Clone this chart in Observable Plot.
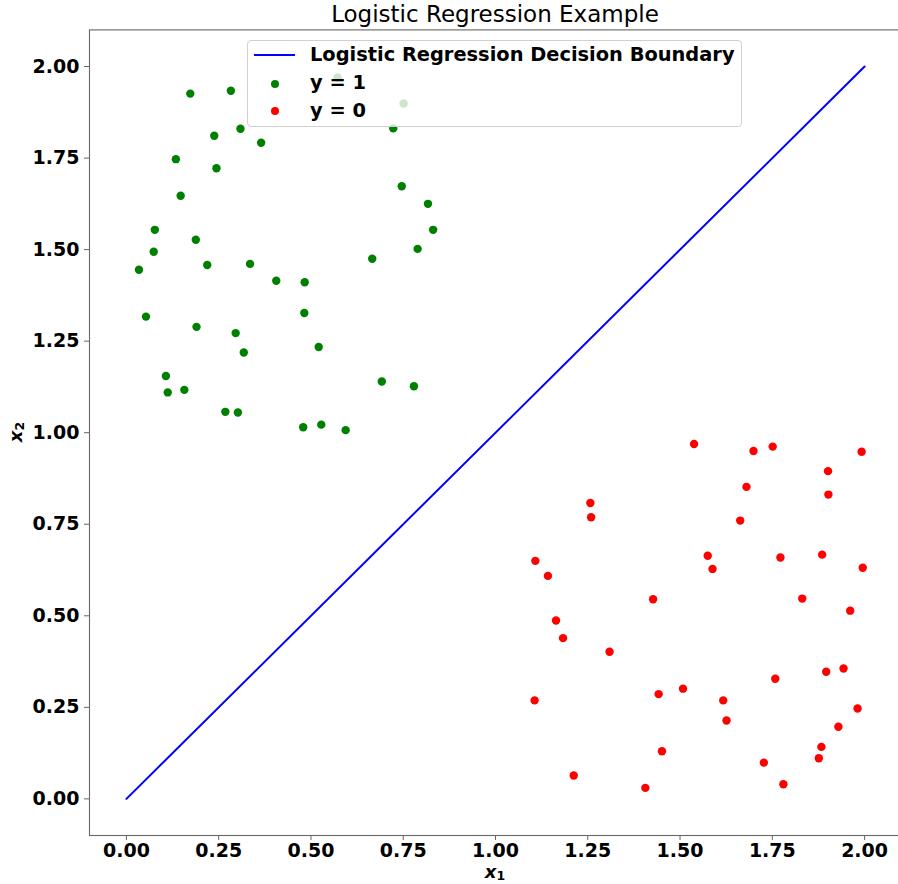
<!DOCTYPE html>
<html>
<head>
<meta charset="utf-8">
<script src="https://cdn.jsdelivr.net/npm/d3@7"></script>
<script src="https://cdn.jsdelivr.net/npm/@observablehq/plot@0.6"></script>
<style>
  html, body { margin: 0; padding: 0; background: white; overflow: hidden; }
  #wrap { position: relative; width: 898px; height: 884px; font-family: "DejaVu Sans", sans-serif; }
  #title { position: absolute; left: 89px; width: 812px; top: 0px; text-align: center; font-size: 23px; line-height: 28px; color: #000; }
  #xlabel { position: absolute; left: 495px; top: 865.3px; transform: translateX(-50%); font-size: 18px; line-height: 14px; font-weight: bold; font-style: italic; white-space: nowrap; }
  #ylabel { position: absolute; left: 16px; top: 432px; transform: translate(-50%, -50%) rotate(-90deg); font-size: 18px; line-height: 14px; font-weight: bold; font-style: italic; white-space: nowrap; }
  sub { font-style: normal; font-size: 12.5px; line-height: 0; vertical-align: -2px; }
  #legend { position: absolute; left: 247px; top: 40px; width: 493px; height: 85px; border: 1px solid #d0d0d0; border-radius: 4px; background: rgba(255,255,255,0.8); }
  .lt { position: absolute; left: 62px; font-size: 19.4px; font-weight: bold; line-height: 20px; white-space: nowrap; }
  .sw-line { position: absolute; left: 6px; width: 41px; height: 2px; background: blue; }
  .sw-dot { position: absolute; width: 8.4px; height: 8.4px; border-radius: 50%; }
</style>
</head>
<body>
<div id="wrap">
  <div id="title">Logistic Regression Example</div>
</div>
<script>
// ---- data ----
const class1X = [0.173, 0.283, 0.572, 0.751, 0.723, 0.309, 0.238, 0.365, 0.134, 0.244,
                 0.746, 0.147, 0.817, 0.077, 0.188, 0.831, 0.789, 0.074, 0.034, 0.219,
                 0.335, 0.666, 0.406, 0.483, 0.482, 0.053, 0.190, 0.296, 0.318, 0.521,
                 0.107, 0.112, 0.157, 0.692, 0.779, 0.268, 0.302, 0.479, 0.528, 0.594];
const class1Y = [1.926, 1.934, 1.970, 1.899, 1.831, 1.830, 1.811, 1.792, 1.747, 1.722,
                 1.673, 1.647, 1.625, 1.554, 1.527, 1.554, 1.502, 1.494, 1.445, 1.458,
                 1.461, 1.475, 1.415, 1.411, 1.327, 1.317, 1.289, 1.272, 1.219, 1.234,
                 1.155, 1.110, 1.117, 1.140, 1.127, 1.057, 1.055, 1.015, 1.022, 1.007];
const class0X = [1.538, 1.699, 1.751, 1.992, 1.901, 1.680, 1.902, 1.257, 1.259, 1.663,
                 1.108, 1.575, 1.772, 1.885, 1.588, 1.995, 1.142, 1.427, 1.831, 1.961,
                 1.164, 1.183, 1.309, 1.106, 1.442, 1.508, 1.617, 1.626, 1.758, 1.896,
                 1.943, 1.981, 1.929, 1.883, 1.876, 1.451, 1.727, 1.212, 1.406, 1.780];
const class0Y = [0.969, 0.950, 0.962, 0.948, 0.895, 0.852, 0.831, 0.808, 0.769, 0.760,
                 0.650, 0.664, 0.659, 0.667, 0.628, 0.631, 0.609, 0.545, 0.547, 0.514,
                 0.487, 0.439, 0.402, 0.269, 0.286, 0.301, 0.269, 0.214, 0.328, 0.347,
                 0.356, 0.247, 0.197, 0.142, 0.111, 0.130, 0.099, 0.064, 0.030, 0.040];
const boundaryX = [0, 2];
const boundaryY = [0, 2];
const xTicks = [0, 0.25, 0.5, 0.75, 1, 1.25, 1.5, 1.75, 2];
const yTicks = [0, 0.25, 0.5, 0.75, 1, 1.25, 1.5, 1.75, 2];
const seriesLabels = ["Logistic Regression Decision Boundary", "y = 1", "y = 0"];

const ones = class1X.map((x, i) => ({x1: x, x2: class1Y[i]}));
const zeros = class0X.map((x, i) => ({x1: x, x2: class0Y[i]}));
const boundary = boundaryX.map((x, i) => ({x1: x, x2: boundaryY[i]}));

const fmt = d3.format(".2f");
const chart = Plot.plot({
  width: 898,
  height: 884,
  marginTop: 29.4,
  marginBottom: 49,
  marginLeft: 89,
  marginRight: -3,
  x: {domain: [-0.1, 2.1]},
  y: {domain: [-0.1, 2.1]},
  style: {fontFamily: "DejaVu Sans", fontSize: "19px", fontWeight: "bold", background: "white", overflow: "visible", maxWidth: "none"},
  marks: [
    Plot.frame({stroke: "#666", strokeWidth: 1.1}),
    Plot.line(boundary, {x: "x1", y: "x2", stroke: "blue", strokeWidth: 2}),
    Plot.dot(ones, {x: "x1", y: "x2", r: 4.2, fill: "green", stroke: null}),
    Plot.dot(zeros, {x: "x1", y: "x2", r: 4.2, fill: "red", stroke: null}),
    Plot.axisX({ticks: xTicks, tickFormat: fmt, tickSize: 5, tickPadding: 2.5, label: null, stroke: "#666", fill: "black", fontWeight: "bold", fontSize: 19}),
    Plot.axisY({ticks: yTicks, tickFormat: fmt, tickSize: 5, tickPadding: 5, label: null, stroke: "#666", fill: "black", fontWeight: "bold", fontSize: 19})
  ]
});
chart.style.position = "absolute";
chart.style.left = "0px";
chart.style.top = "0px";
const wrap = document.getElementById("wrap");
wrap.insertBefore(chart, wrap.firstChild);

// axis labels
const xl = document.createElement("div");
xl.id = "xlabel";
xl.innerHTML = "x<sub>1</sub>";
wrap.appendChild(xl);
const yl = document.createElement("div");
yl.id = "ylabel";
yl.innerHTML = "x<sub>2</sub>";
wrap.appendChild(yl);

// legend
const lg = document.createElement("div");
lg.id = "legend";
lg.innerHTML = `
  <div class="sw-line" style="top:13px"></div>
  <div class="lt" style="top:4px">${seriesLabels[0]}</div>
  <div class="sw-dot" style="left:22.5px;top:38.5px;background:green"></div>
  <div class="lt" style="top:32px">${seriesLabels[1]}</div>
  <div class="sw-dot" style="left:22.5px;top:65.5px;background:red"></div>
  <div class="lt" style="top:60px">${seriesLabels[2]}</div>`;
wrap.appendChild(lg);
</script>
</body>
</html>
